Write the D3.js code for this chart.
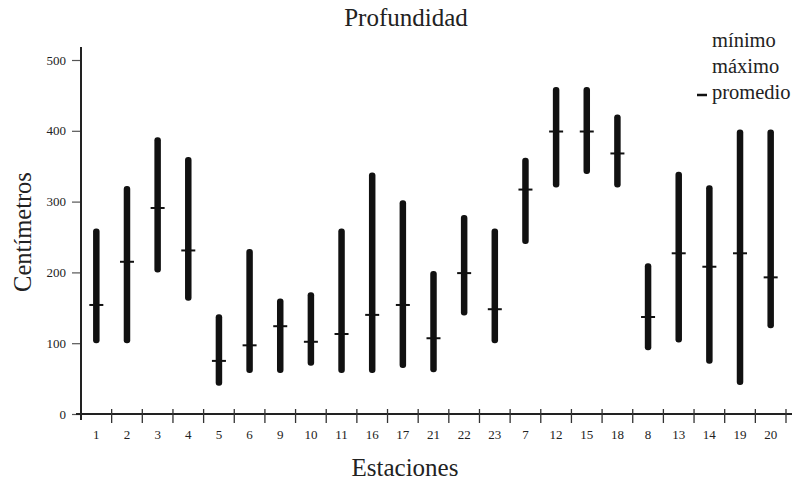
<!DOCTYPE html>
<html>
<head>
<meta charset="utf-8">
<script src="https://cdn.jsdelivr.net/npm/d3@7"></script>
<style>
  body { margin: 0; background: #fff; }
  text { font-family: "Liberation Serif", "Times New Roman", "DejaVu Serif", serif; }
</style>
</head>
<body>
<svg id="chart"></svg>
<script>
// estaciones en el orden del gráfico
const stations = ["1","2","3","4","5","6","9","10","11","16","17","21","22","23","7","12","15","18","8","13","14","19","20"];
const minimo   = [100,100,200,160, 40, 58, 58, 68, 58, 58, 65, 59,139,100,240,320,339,320, 90,101, 71, 41,121];
const maximo   = [262,322,391,363,141,233,163,172,262,341,302,202,281,262,362,462,462,423,213,342,323,402,402];
const promedio = [154,215,291,231, 75, 97,124,102,113,140,154,107,199,148,317,399,399,368,137,227,208,227,193];
const yTicks = [0,100,200,300,400,500];
const legendLabels = ["mínimo","máximo","promedio"];

const serif = "'Liberation Serif', 'Times New Roman', serif";
const width = 809, height = 481;
const data = stations.map((s, i) => ({ s, min: minimo[i], max: maximo[i], mean: promedio[i] }));

const svg = d3.select("#chart")
  .attr("width", width)
  .attr("height", height);

const x = d3.scaleBand()
  .domain(stations)
  .range([81, 786])
  .padding(0);

const y = d3.scaleLinear()
  .domain([0, 500])
  .range([414, 60]);

// eje Y
const yAxis = svg.append("g")
  .attr("transform", "translate(81,0)")
  .call(d3.axisLeft(y).tickValues(yTicks).tickSize(9).tickPadding(6));
yAxis.attr("font-family", serif);
yAxis.select(".domain").remove();
yAxis.selectAll("line").attr("stroke", "#555").attr("stroke-width", 1.2);
yAxis.selectAll("text")
  .style("font-family", serif)
  .style("font-size", "13px")
  .attr("fill", "#222");

svg.append("line")
  .attr("x1", 81).attr("x2", 81)
  .attr("y1", 47).attr("y2", 420)
  .attr("stroke", "#222").attr("stroke-width", 2);

// eje X
const xAxis = svg.append("g")
  .attr("transform", "translate(0,414)")
  .call(d3.axisBottom(x).tickSize(0).tickPadding(16));
xAxis.attr("font-family", serif);
xAxis.select(".domain").remove();
xAxis.selectAll("text")
  .style("font-family", serif)
  .style("font-size", "13px")
  .attr("fill", "#222");

svg.append("line")
  .attr("x1", 76).attr("x2", 792)
  .attr("y1", 414).attr("y2", 414)
  .attr("stroke", "#222").attr("stroke-width", 2);

// marcas entre estaciones
svg.append("g")
  .selectAll("line")
  .data(stations)
  .enter()
  .append("line")
  .attr("x1", d => x(d) + x.bandwidth())
  .attr("x2", d => x(d) + x.bandwidth())
  .attr("y1", 409)
  .attr("y2", 423)
  .attr("stroke", "#333")
  .attr("stroke-width", 1.3);

// barras mínimo–máximo
const barW = 6.5;
svg.append("g")
  .selectAll("rect")
  .data(data)
  .enter()
  .append("rect")
  .attr("x", d => x(d.s) + x.bandwidth() / 2 - barW / 2)
  .attr("width", barW)
  .attr("y", d => y(d.max))
  .attr("height", d => y(d.min) - y(d.max))
  .attr("rx", 3)
  .attr("fill", "#111");

// promedio
svg.append("g")
  .selectAll("line")
  .data(data)
  .enter()
  .append("line")
  .attr("x1", d => x(d.s) + x.bandwidth() / 2 - 7)
  .attr("x2", d => x(d.s) + x.bandwidth() / 2 + 7)
  .attr("y1", d => y(d.mean))
  .attr("y2", d => y(d.mean))
  .attr("stroke", "#111")
  .attr("stroke-width", 2);

// títulos
svg.append("text")
  .attr("x", 406).attr("y", 26)
  .attr("text-anchor", "middle")
  .style("font-family", serif)
  .style("font-size", "25px")
  .attr("fill", "#222")
  .text("Profundidad");

svg.append("text")
  .attr("transform", "translate(31,232) rotate(-90)")
  .attr("text-anchor", "middle")
  .style("font-family", serif)
  .style("font-size", "24.5px")
  .attr("fill", "#222")
  .text("Centímetros");

svg.append("text")
  .attr("x", 405).attr("y", 476)
  .attr("text-anchor", "middle")
  .style("font-family", serif)
  .style("font-size", "25px")
  .attr("fill", "#222")
  .text("Estaciones");

// leyenda
const legend = svg.append("g");
legend.selectAll("text")
  .data(legendLabels)
  .enter()
  .append("text")
  .attr("x", 712)
  .attr("y", (d, i) => 47 + i * 26)
  .style("font-family", serif)
  .style("font-size", "20.5px")
  .attr("fill", "#222")
  .text(d => d);

legend.append("line")
  .attr("x1", 697).attr("x2", 707)
  .attr("y1", 95).attr("y2", 95)
  .attr("stroke", "#111").attr("stroke-width", 2.5);
</script>
</body>
</html>
